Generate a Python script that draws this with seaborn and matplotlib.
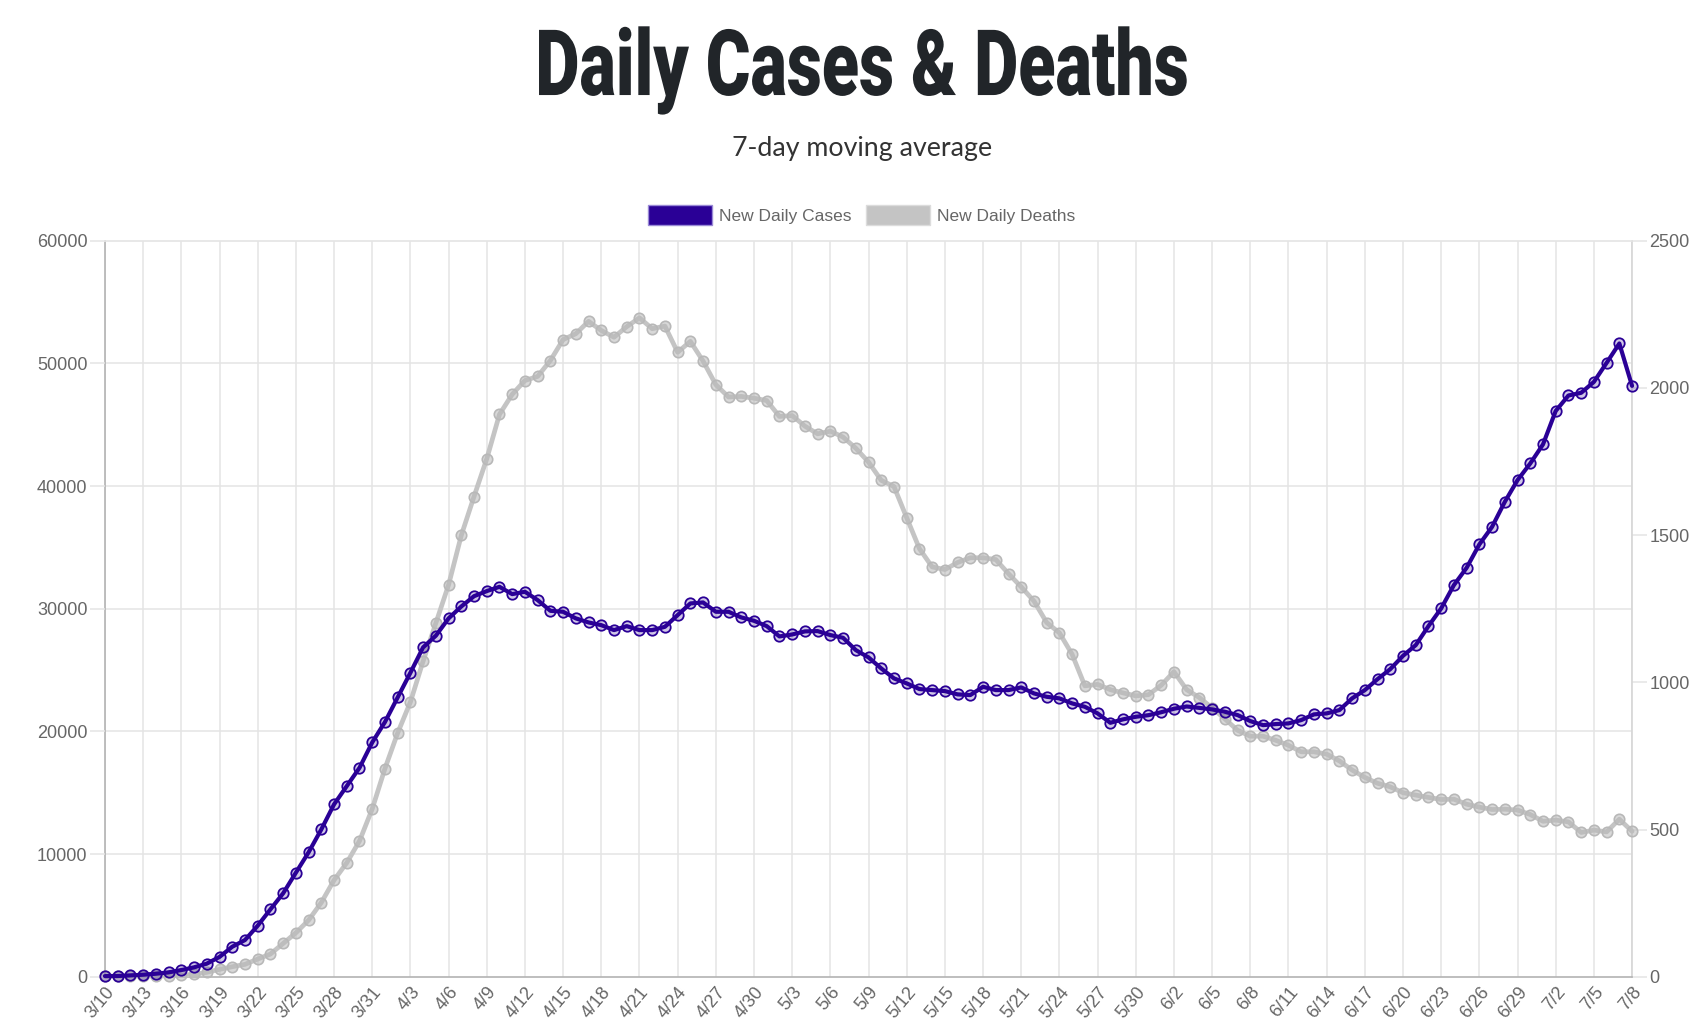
import numpy as np
import pandas as pd
import matplotlib
matplotlib.use("Agg")
import matplotlib.pyplot as plt
import seaborn as sns
from matplotlib import patheffects as pe
from matplotlib.patches import Patch
from matplotlib.ticker import MultipleLocator
from matplotlib.transforms import Affine2D

# Daily data, 3/10 -> 7/8 (7-day moving averages)
dates = pd.date_range("2020-03-10", "2020-07-08", freq="D")
date_labels = [f"{d.month}/{d.day}" for d in dates]

new_cases = [
    50, 60, 110, 165, 245, 355, 545, 765, 1065, 1615,
    2445, 2990, 4160, 5490, 6800, 8480, 10140, 12010, 14050, 15540,
    17030, 19100, 20760, 22770, 24780, 26850, 27800, 29210, 30180, 31020,
    31435, 31785, 31190, 31380, 30700, 29830, 29750, 29210, 28880, 28660,
    28255, 28580, 28255, 28255, 28525, 29480, 30430, 30510, 29750, 29750,
    29290, 29015, 28580, 27740, 27900, 28150, 28175, 27850, 27630, 26625,
    26030, 25130, 24320, 23910, 23450, 23365, 23285, 23015, 22960, 23635,
    23365, 23365, 23585, 23095, 22820, 22690, 22280, 22005, 21465, 20700,
    20980, 21190, 21320, 21560, 21845, 22030, 21915, 21790, 21600, 21330,
    20840, 20510, 20595, 20650, 20920, 21385, 21465, 21735, 22690, 23365,
    24260, 25075, 26160, 27030, 28580, 30025, 31925, 33335, 35240, 36675,
    38710, 40480, 41840, 43390, 46120, 47380, 47600, 48490, 50040, 51620,
    48165,
]

new_deaths = [
    2, 2, 2, 2, 2, 3, 5, 8, 15, 25,
    34, 42, 60, 77, 113, 149, 192, 252, 328, 387,
    461, 570, 707, 828, 933, 1072, 1201, 1331, 1499, 1631,
    1759, 1910, 1978, 2025, 2039, 2093, 2164, 2184, 2226, 2195,
    2172, 2208, 2238, 2201, 2210, 2121, 2158, 2091, 2011, 1969,
    1971, 1965, 1957, 1903, 1906, 1870, 1844, 1853, 1833, 1795,
    1748, 1686, 1665, 1559, 1454, 1392, 1383, 1407, 1423, 1423,
    1417, 1369, 1324, 1276, 1203, 1168, 1095, 988, 993, 975,
    964, 954, 958, 990, 1036, 975, 948, 913, 876, 837,
    817, 817, 803, 786, 764, 764, 756, 733, 702, 677,
    657, 645, 625, 617, 609, 602, 603, 586, 576, 568,
    569, 566, 551, 528, 532, 526, 490, 498, 492, 535,
    494,
]

series_names = ["New Daily Cases", "New Daily Deaths"]
case_color = "#2a0096"
death_color = "#c4c4c4"
grid_color = "#e4e4e4"
label_color = "#666666"


class Squeeze(pe.AbstractPathEffect):
    """Narrow the glyphs horizontally to mimic a condensed display face."""

    def __init__(self, sx):
        super().__init__()
        self.sx = sx

    def draw_path(self, renderer, gc, tpath, affine, rgbFace=None):
        ext = tpath.transformed(affine).get_extents()
        cx = (ext.x0 + ext.x1) / 2
        aff = affine + Affine2D().translate(-cx, 0).scale(self.sx, 1).translate(cx, 0)
        renderer.draw_path(gc, tpath, aff, rgbFace)


sns.set_style("white")
plt.rcParams["font.family"] = ["Liberation Sans", "DejaVu Sans"]

df = pd.DataFrame({"day": np.arange(len(dates)), "cases": new_cases, "deaths": new_deaths})

fig = plt.figure(figsize=(16.96, 10.22), dpi=100)
ax = fig.add_axes([0.0619, 0.0443, 0.9004, 0.7202])   # deaths, right scale, carries the grid
ax2 = ax.twinx()                                        # cases, left scale, drawn on top

sns.lineplot(data=df, x="day", y="deaths", ax=ax, color=death_color, lw=3.4,
             marker="o", ms=7.5, mfc=(0.72, 0.72, 0.72, 0.55), mec="#b8b8b8", mew=1.2,
             clip_on=False, zorder=3)
sns.lineplot(data=df, x="day", y="cases", ax=ax2, color=case_color, lw=3.0,
             marker="o", ms=7.5, mfc=(42 / 255, 0, 150 / 255, 0.22), mec=case_color, mew=1.3,
             clip_on=False, zorder=3)

# x axis: every third day
ax.set_xlim(0, len(dates) - 1)
ax.set_xticks(df["day"][::3])
ax.set_xticklabels(date_labels[::3], rotation=50, ha="right", rotation_mode="anchor")

# right axis (deaths)
ax.set_ylim(0, 2500)
ax.yaxis.set_major_locator(MultipleLocator(500))
ax.yaxis.set_minor_locator(MultipleLocator(2500 / 6))
ax.yaxis.tick_right()
ax.grid(which="minor", axis="y", color=grid_color, lw=1.1)
ax.grid(which="major", axis="x", color=grid_color, lw=1.1)
ax.grid(which="major", axis="y", visible=False)
ax.tick_params(axis="y", which="minor", length=0)
ax.tick_params(axis="y", which="major", length=10.5, width=1.1, color=grid_color,
               labelsize=13, labelcolor=label_color, pad=2)
ax.tick_params(axis="x", which="major", length=3, width=1.1, color=grid_color,
               labelsize=13, labelcolor=label_color, pad=2)

# left axis (cases)
ax2.set_ylim(0, 60000)
ax2.yaxis.set_major_locator(MultipleLocator(10000))
ax2.yaxis.tick_left()
ax2.grid(False)
ax2.tick_params(axis="y", length=10.5, width=1.1, color=grid_color,
                labelsize=13, labelcolor=label_color, pad=2)

for a in (ax, ax2):
    a.set_xlabel("")
    a.set_ylabel("")
for s in ax2.spines.values():
    s.set_visible(False)
ax.spines["left"].set_color("#b3b3b3")
ax.spines["bottom"].set_color("#b3b3b3")
ax.spines["right"].set_color("#d6d6d6")
ax.spines["top"].set_color(grid_color)
for s in ax.spines.values():
    s.set_linewidth(1.2)
    s.set_visible(True)

# legend
handles = [Patch(fc=case_color, ec="#9a8ad6", lw=1),
           Patch(fc=death_color, ec="#dcdcdc", lw=1)]
fig.legend(handles=handles, labels=series_names, ncol=2, loc="center",
           bbox_to_anchor=(0.508, 0.7896), frameon=False, fontsize=12.5,
           labelcolor=label_color, handlelength=3.7, handleheight=1.45,
           handletextpad=0.4, columnspacing=0.85)

# titles
fig.text(0.508, 0.907, "Daily Cases & Deaths", ha="center", va="baseline",
         fontsize=66, fontweight="black", family=["Roboto", "DejaVu Sans"],
         color="#212529", path_effects=[Squeeze(0.745)])
fig.text(0.508, 0.8474, "7-day moving average", ha="center", va="baseline",
         fontsize=19.3, family=["Lato", "DejaVu Sans"], color="#333333")

fig.savefig("out.png", dpi=100)
